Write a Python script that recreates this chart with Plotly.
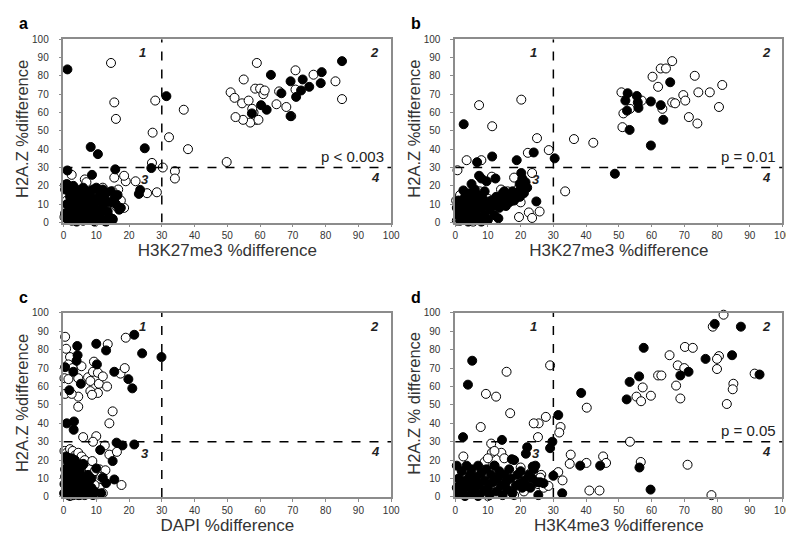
import plotly.graph_objects as go

# ---------------- Panel a : H3K27me3 vs H2A.Z ----------------
a_open_x = [14.5, 15.5, 16, 28, 27.2, 36.7, 32.2, 38, 49.8, 27, 30.3, 34, 34, 28.5, 25.5, 22, 19, 18.5, 15.5, 16.7,
            2.5, 6.5, 7, 0.5, 18.5, 17, 1, 3, 4, 8, 11, 13, 15, 16, 17.5, 0.3, 12, 14,
            51, 52.2, 54.5, 55, 56.5, 58.5, 59, 60, 61, 61.4, 58, 58.7, 57, 59.5, 54.8, 52.5, 65, 65.8, 68,
            70.8, 70.8, 76.3, 83, 85, 69.5, 57.6]
a_open_y = [87, 65.5, 56.5, 66.5, 49, 61.5, 46.5, 40, 33, 32.5, 30, 28, 24, 16.5, 16, 22.5, 22.5, 25.5, 24.5, 18,
            26, 23.5, 22, 20.5, 8, 8, 12, 5, 18, 2, 10, 8, 17, 9, 12, 3, 19, 14,
            71, 68, 65, 78, 66.5, 73, 87, 73, 70, 72, 60, 56, 54.5, 56, 56, 57.5, 64.5, 71.5, 63,
            83, 72.5, 80.6, 77, 67.3, 58, 62]
a_fill_x = [1.2, 31.4, 8.3, 10.5, 24.8, 1.2, 15.8, 26.8, 8.7, 23.4, 23, 15, 17.5,
            63.3, 69.3, 73, 78.8, 85, 78.5, 75, 72.5, 71, 66.5, 60.3, 62, 57.5, 69.3,
            0.5, 1, 1, 1.5, 2, 2, 2.5, 3, 3, 3.5, 4, 4, 4.5, 5, 5, 5.5, 5.5, 6, 6, 6.5, 7, 7, 7.5, 8, 8, 8.5,
            9, 9, 9.5, 10, 10, 10.5, 11, 11, 11.5, 12, 12.5, 12.5, 13, 13.5, 14, 14, 14.5, 15, 15.5, 16, 16.5,
            17, 3, 2, 7, 9, 12, 4, 6, 8, 10, 13, 5, 0.5, 1]
a_fill_y = [83.5, 68.9, 41.2, 37.3, 40.5, 28.4, 29, 29.7, 26, 17.8, 15.6, 1.5, 8,
            80.5, 77, 78, 82, 88, 76, 74, 72, 68.5, 70.5, 64, 61.5, 59.5, 58,
            5, 2, 10, 18, 7, 14, 1, 4, 11, 17, 0.5, 8, 13, 3, 6, 10, 15, 1, 19, 5, 9, 12, 2, 6, 17, 14,
            3, 10, 0.5, 7, 19, 12, 2, 15, 5, 9, 1, 13, 16, 6, 3, 11, 17, 2, 13, 10, 15,
            7, 20, 16, 15, 18, 18, 2.5, 7.5, 11, 4, 0.5, 17.5, 18, 21]

# ---------------- Panel b : H3K27me3 vs H2A.Z ----------------
b_open_x = [7.3, 20.2, 11.3, 25, 36.3, 42.2, 28.6, 22.2, 3.5, 8, 0.7, 23.5, 33.6, 19.5, 22.5, 23.5, 25.8, 11.2, 18,
            0.5, 0.3, 1.5, 5.5, 4, 7.5, 9.5, 10, 14, 16, 17.5, 19, 20, 3.5, 8.5,
            50.8, 51.4, 51.1, 53.4, 57, 60.3, 62, 62.8, 64.4, 66.3, 63.3, 66.3, 67.2, 69.7, 70.3, 71.4, 73.2,
            74.3, 74, 77.8, 80.6, 81.6]
b_open_y = [64, 67, 52.5, 46, 45.5, 43.5, 39.5, 38, 34, 34, 28.5, 27, 17, 3, 5.5, 2.5, 6, 25, 24.5,
            1, 12, 15, 0.5, 11, 17, 5, 13, 18, 17, 12, 18, 11, 3, 9,
            71, 59.5, 52, 62, 66.5, 79.5, 74, 84, 84, 88, 62, 65.5, 65, 69.5, 66.5, 57.5, 80,
            71, 54, 71, 63, 75]
b_fill_x = [2.6, 11.3, 6.7, 18.8, 24, 30.4, 48.8, 7.3, 8, 9.6, 12.3, 20.2, 20.5, 19.7, 21, 5, 24.8, 13.2, 19.8,
            18.5, 15, 2.5,
            52.7, 55.5, 55.8, 56, 52, 52.5, 53.3, 59.8, 62.8, 63.6, 59.8, 65.7,
            0.5, 1, 1, 1.5, 2, 2.5, 3, 3, 3.5, 4, 4, 4.5, 5, 5, 5.5, 6, 6, 6.5, 7, 7, 7.5, 8, 8.5, 9, 9,
            9.5, 10, 10.5, 11, 11.5, 12, 12.5, 13, 13.5, 14, 14.5, 15, 15.5, 16, 16.5, 17, 17.5, 18, 18.5,
            19, 19.5, 20, 20.5, 21, 21.5, 22, 2, 4, 6, 8, 3]
b_fill_y = [53.6, 36, 32.9, 34, 38.2, 35, 26.6, 25.5, 24, 22.5, 24, 27, 24, 21, 18, 21, 11.5, 2.3, 14,
            16, 17, 17.5,
            70.5, 69, 65.5, 62.5, 66.5, 61, 50.5, 66, 64, 56, 42, 76.5,
            8, 4, 12, 1, 9, 6, 14, 2, 10, 0.5, 7, 16, 4, 12, 1.5, 8, 18, 5, 11, 15, 2, 8, 13, 4, 17,
            10, 1.5, 7, 12, 9, 4, 14, 10, 8, 12, 16, 13, 9, 15, 11, 13, 17, 12, 15,
            14, 17, 15, 19, 16, 22, 19, 11, 3, 13, 0.5, 7.5]

# ---------------- Panel c : DAPI vs H2A.Z ----------------
c_open_x = [0.5, 0.8, 2, 1.5, 2.8, 5.5, 0.3, 1.5, 4.5, 4.5, 4.5, 0.5, 2.5, 7.5, 8.2, 9, 9.3, 10.5, 10.8, 10.5,
            12, 13.3, 13.5, 8.2, 8.7, 17.4, 18.7, 19, 15, 14, 10, 6, 9, 12.6, 14, 16.3, 17.7,
            0.3, 1, 2, 2.8, 3.5, 4.5, 5.5, 6.5, 7, 8, 9, 10, 11, 12, 10.5, 9.5, 8.8, 9.5, 11, 7, 6, 5, 2,
            1.5, 3.7, 12.8, 11.5]
c_open_y = [87, 80.5, 76, 72, 70, 71, 64.5, 64, 64.5, 54.5, 49, 56, 56, 65, 63, 68, 73.5, 67.5, 61.5, 56.5,
            65.5, 60, 83, 57.5, 55.5, 67, 70, 86.5, 46.5, 40, 33, 32.5, 30, 28, 23, 24.5, 6.5,
            25, 24, 26, 25, 22.5, 24, 22, 20, 17, 15, 12, 9, 5, 2, 1.5, 6.5, 19.5, 14, 15, 9, 4, 1, 0.5,
            21, 17, 14.5, 11]
c_fill_x = [21.6, 10, 13, 4.2, 4.3, 24, 29.9, 0.5, 10.2, 3, 15.5, 19.8, 21, 5.3, 1.8, 4, 1, 3.2, 3.1,
            16.2, 18, 21.6, 11.2, 15, 10, 6, 15.5, 13, 12, 11.5,
            0.2, 0.3, 0.5, 0.5, 1, 1, 1, 1.5, 1.5, 1.5, 2, 2, 2, 2, 2.5, 2.5, 3, 3, 3, 3, 3.5, 3.5, 4, 4, 4,
            4.5, 4.5, 5, 5, 5.5, 5.5, 6, 6.5, 6.5, 7, 7.5, 8, 8.5, 9, 9.5, 2.5, 1.2, 0.8, 3.5, 6, 7.5,
            8.5, 4.5]
c_fill_y = [88.1, 83.2, 79.6, 82, 77, 78, 76, 70.5, 72, 68, 68, 64, 59, 61.5, 58, 74, 40, 41, 36.5,
            29.5, 28, 28.5, 25.5, 19.5, 15.5, 18, 9.5, 7.5, 10.5, 2,
            2, 7, 11, 15, 4, 9, 13, 1, 6, 17, 3, 8, 11, 14, 19, 5, 1, 10, 13, 16, 7, 3, 12, 9, 18,
            5, 1, 8, 14, 11, 3, 6, 1, 10, 4, 7, 2, 5, 1, 3, 21, 19.5, 22, 20, 17.5, 12,
            10, 15.5]

# ---------------- Panel d : H3K4me3 vs H2A.Z ----------------
d_open_x = [82, 78.7, 70.2, 72.6, 65.5, 68, 70, 80.6, 80, 80, 62, 63, 57.3, 55.4, 56.8, 59.8, 67.5, 68.8,
            83, 85, 84.8, 91.5, 71, 78.3, 53.4, 56.7, 40.2, 40.1, 41, 44.1, 45.2, 46.1, 35.3, 35,
            32.2, 31.8, 31.5, 32.8, 29, 27.7, 25.5, 24, 25.3, 15.7, 12.5, 9.4, 16.8, 7.8, 11, 2.5, 11.2, 14.1,
            27.8, 26.3, 9, 10, 12, 15, 16, 18, 20, 21, 23, 10, 25.3, 26, 27, 28.5, 12, 8]
d_open_y = [99, 92.5, 81.5, 81, 77, 71.5, 70, 76.5, 75, 69.5, 66, 66, 59.5, 54.5, 52, 55, 60.5, 53.5,
            50.5, 61.5, 58.5, 67, 17.5, 1, 30, 19, 48.5, 18.5, 3.5, 3.5, 22, 18.5, 23, 18,
            38, 35, 13.5, 9, 71.5, 43.5, 40, 40, 32.5, 68, 54.5, 56, 45.5, 38, 29, 22, 24, 24,
            6, 12, 19, 21, 17, 21, 2, 1, 16, 3, 13, 0.5, 7, 10.5, 5, 6, 25, 15]
d_fill_x = [5.2, 3.9, 2.4, 14.3, 31.5, 29.7, 29, 38.5, 38.2, 44.3, 56.3, 59.7, 32.7, 30, 25.4,
            52.4, 53.3, 56.2, 57.6, 68.8, 71.3, 76.5, 79.3, 87.3, 84.6, 93, 22, 21.6, 17.3, 23.7,
            0.5, 0.5, 1, 1, 1.5, 2, 2.5, 3, 3, 3.5, 4, 4.5, 5, 5, 5.5, 6, 6.5, 7, 7, 7.5, 8, 8.5, 9, 9.5,
            10, 10.5, 11, 11.5, 12, 12.5, 13, 13.5, 14, 14.5, 15, 15.5, 16, 16.5, 17, 17.5, 18, 18.5, 19,
            19.5, 20, 20.5, 21, 22, 22.5, 23, 23.5, 24, 25, 26, 27, 24.5]
d_fill_y = [74, 61, 32.5, 31, 44.5, 30, 26.5, 56.5, 17, 17, 16, 4, 2, 11.5, 1,
            53, 62.5, 65.5, 81, 66, 68, 75, 94, 92.5, 77, 66.5, 27, 23.5, 20.5, 16.5,
            5, 17, 2, 10, 7, 14, 4, 0.5, 9, 17, 6, 12, 2, 15, 8, 4, 11, 0.5, 17, 7, 13, 3, 9, 15,
            5, 1, 12, 8, 17, 3, 10, 14, 6, 1, 12, 8, 4, 15, 10, 2, 20, 6, 12,
            7, 14, 5, 9, 6, 12, 5, 10, 15, 8, 8, 7.5, 17]

panels = [
    ("a", a_open_x, a_open_y, a_fill_x, a_fill_y, "H3K27me3 %difference", "H2A.Z %difference", "p < 0.003"),
    ("b", b_open_x, b_open_y, b_fill_x, b_fill_y, "H3K27me3 %difference", "H2A.Z %difference", "p = 0.01"),
    ("c", c_open_x, c_open_y, c_fill_x, c_fill_y, "DAPI %difference", "H2A.Z %difference", None),
    ("d", d_open_x, d_open_y, d_fill_x, d_fill_y, "H3K4me3 %difference", "H2A.Z % difference", "p = 0.05"),
]

W, H = 794, 537
# plot-area boxes in pixels: (left, right, top, bottom)
boxes = [(53.3, 386, 25.7, 213.3), (451, 783.3, 25.7, 213.3),
         (53.3, 386, 305.7, 494), (451, 783.3, 305.7, 494)]

FONT = "Liberation Sans, Arial, sans-serif"
fig = go.Figure()
annotations = []
shapes = []
layout = {}

for i, (letter, ox, oy, fx, fy, xt, yt, ptxt) in enumerate(panels):
    n = "" if i == 0 else str(i + 1)
    xa, ya = "x" + n, "y" + n
    l, r, t, b = boxes[i]
    common = dict(range=[0, 100], dtick=10, tick0=0, showgrid=False, zeroline=False,
                  showline=True, mirror=True, linecolor="#8c8c8c", linewidth=1.5,
                  ticks="outside", ticklen=3, tickcolor="#8c8c8c", tickwidth=1,
                  tickfont=dict(family=FONT, size=10, color="#333333"), fixedrange=True)
    layout["xaxis" + n] = dict(common, domain=[l / W, r / W], anchor=ya,
                               title=dict(text=xt, font=dict(family=FONT, size=17, color="#333333"), standoff=3))
    layout["yaxis" + n] = dict(common, domain=[1 - b / H, 1 - t / H], anchor=xa, ticklabelstandoff=8)
    # y-axis title placed as rotated text left of the tick labels
    annotations.append(dict(xref="paper", yref="paper", x=(l - 42) / W, y=1 - ((t + b) / 2 - 2) / H,
                            text=yt, textangle=-90, showarrow=False, xanchor="center", yanchor="middle",
                            font=dict(family=FONT, size=16.5, color="#333333")))
    fig.add_trace(go.Scatter(x=ox, y=oy, mode="markers", xaxis=xa, yaxis=ya, cliponaxis=False,
                             marker=dict(size=9, color="white", line=dict(color="black", width=1)),
                             showlegend=False, hoverinfo="skip"))
    fig.add_trace(go.Scatter(x=fx, y=fy, mode="markers", xaxis=xa, yaxis=ya, cliponaxis=False,
                             marker=dict(size=9, color="black", line=dict(color="black", width=1)),
                             showlegend=False, hoverinfo="skip"))
    # dashed threshold lines
    shapes.append(dict(type="line", xref=xa, yref=ya, x0=30, x1=30, y0=0, y1=100,
                       line=dict(color="black", width=1.5, dash="dash")))
    shapes.append(dict(type="line", xref=xa, yref=ya, x0=0, x1=100, y0=30, y1=30,
                       line=dict(color="black", width=1.5, dash="dash")))
    # quadrant labels
    for txt, qx, qy in [("1", 24, 92.7), ("2", 95, 92.7), ("3", 24.8, 23.6), ("4", 95.2, 24.5)]:
        annotations.append(dict(xref=xa, yref=ya, x=qx, y=qy, text="<b><i>" + txt + "</i></b>",
                                showarrow=False, font=dict(family=FONT, size=13, color="#222222")))
    if ptxt:
        annotations.append(dict(xref=xa, yref=ya, x=98.5, y=36, text=ptxt, xanchor="right",
                                showarrow=False, font=dict(family=FONT, size=15, color="#222222")))
    # panel letter
    annotations.append(dict(xref="paper", yref="paper", x=(l - 47) / W, y=1 - (t - 16) / H,
                            text="<b>" + letter + "</b>", showarrow=False, xanchor="left", yanchor="middle",
                            font=dict(family=FONT, size=16, color="black")))

fig.update_layout(width=W, height=H, margin=dict(l=0, r=0, t=0, b=0),
                  paper_bgcolor="white", plot_bgcolor="white",
                  annotations=annotations, shapes=shapes, **layout)
fig.write_html("out.html")
